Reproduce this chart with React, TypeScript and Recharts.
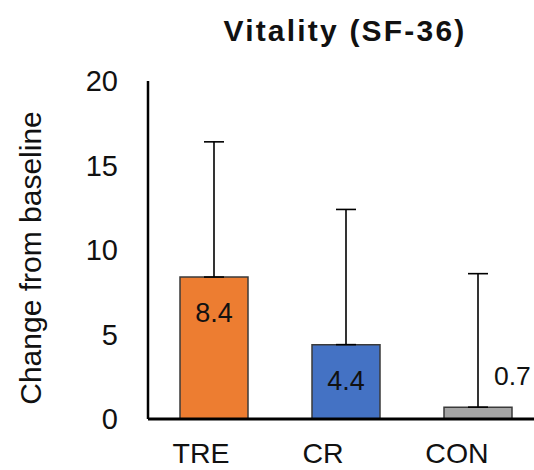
import React from "react";
import { BarChart, Bar, XAxis, YAxis, ErrorBar, LabelList, Cell } from "recharts";

// Groups and their mean change from baseline, with the upper SD whisker
const groups = ["TRE", "CR", "CON"];
const meanChange = [8.4, 4.4, 0.7];
const upperSD = [8.0, 8.0, 7.9];
const yTicks = [0, 5, 10, 15, 20];

const barColors = ["#ED7D31", "#4472C4", "#A5A5A5"];
const tickShift = [-13, -23, -21];

const data = groups.map((g, i) => ({
  group: g,
  value: meanChange[i],
  err: [0, upperSD[i]],
}));

const FONT = "'Liberation Sans', Arial, Helvetica, sans-serif";

const XTick = (props: any) => {
  const { x, y, payload, index } = props;
  return (
    <text
      x={x + (tickShift[index] ?? 0)}
      y={y}
      dy="0.71em"
      textAnchor="middle"
      fontFamily={FONT}
      fontSize={28.5}
      fill="#111"
    >
      {payload.value}
    </text>
  );
};

// Value label: inside the bar near its top, or beside it when the bar is too short
const ValueLabel = (props: any) => {
  const { x, y, width, height, value } = props;
  const short = height < 40;
  if (short) {
    return (
      <text
        x={x + width - 18}
        y={y - 32}
        dy="0.355em"
        textAnchor="start"
        fontFamily={FONT}
        fontSize={26.5}
        fill="#111"
      >
        {value}
      </text>
    );
  }
  return (
    <text
      x={x + width / 2}
      y={y + 26}
      dy="0.71em"
      textAnchor="middle"
      fontFamily={FONT}
      fontSize={27}
      fill="#111"
    >
      {value}
    </text>
  );
};

export default function App() {
  return (
    <div
      style={{
        position: "fixed",
        top: 0,
        left: 0,
        width: 534,
        height: 470,
        overflow: "hidden",
        background: "#fff",
      }}
    >
      <div
        style={{
          position: "absolute",
          top: 16,
          left: 345,
          transform: "translateX(-50%)",
          fontFamily: FONT,
          fontWeight: "bold",
          fontSize: 30,
          lineHeight: "30px",
          letterSpacing: 2.2,
          whiteSpace: "nowrap",
          color: "#111",
        }}
      >
        Vitality (SF-36)
      </div>
      <BarChart
        width={548}
        height={470}
        data={data}
        margin={{ top: 81, right: 4, left: 68, bottom: 13 }}
      >
        <XAxis
          dataKey="group"
          axisLine={{ stroke: "#000", strokeWidth: 3 }}
          tickLine={false}
          tickSize={22}
          tickMargin={2}
          height={38}
          tick={<XTick />}
          interval={0}
        />
        <YAxis
          domain={[0, 20]}
          ticks={yTicks}
          width={80}
          axisLine={{ stroke: "#000", strokeWidth: 2.5 }}
          tickLine={false}
          tickSize={28}
          tickMargin={2}
          tick={{ fontFamily: FONT, fontSize: 29, fill: "#111" }}
          label={{
            content: () => (
              <text
                x={30}
                y={258}
                transform="rotate(-90 30 258)"
                textAnchor="middle"
                dominantBaseline="central"
                fontFamily={FONT}
                fontSize={30}
                fill="#111"
              >
                Change from baseline
              </text>
            ),
          }}
        />
        <Bar
          dataKey="value"
          barSize={68}
          stroke="#3a3a3a"
          strokeWidth={1.5}
          isAnimationActive={false}
        >
          {data.map((d, i) => (
            <Cell key={d.group} fill={barColors[i]} />
          ))}
          <ErrorBar
            dataKey="err"
            direction="y"
            width={10}
            stroke="#000"
            strokeWidth={1.6}
            isAnimationActive={false}
          />
          <LabelList dataKey="value" content={<ValueLabel />} />
        </Bar>
      </BarChart>
    </div>
  );
}
